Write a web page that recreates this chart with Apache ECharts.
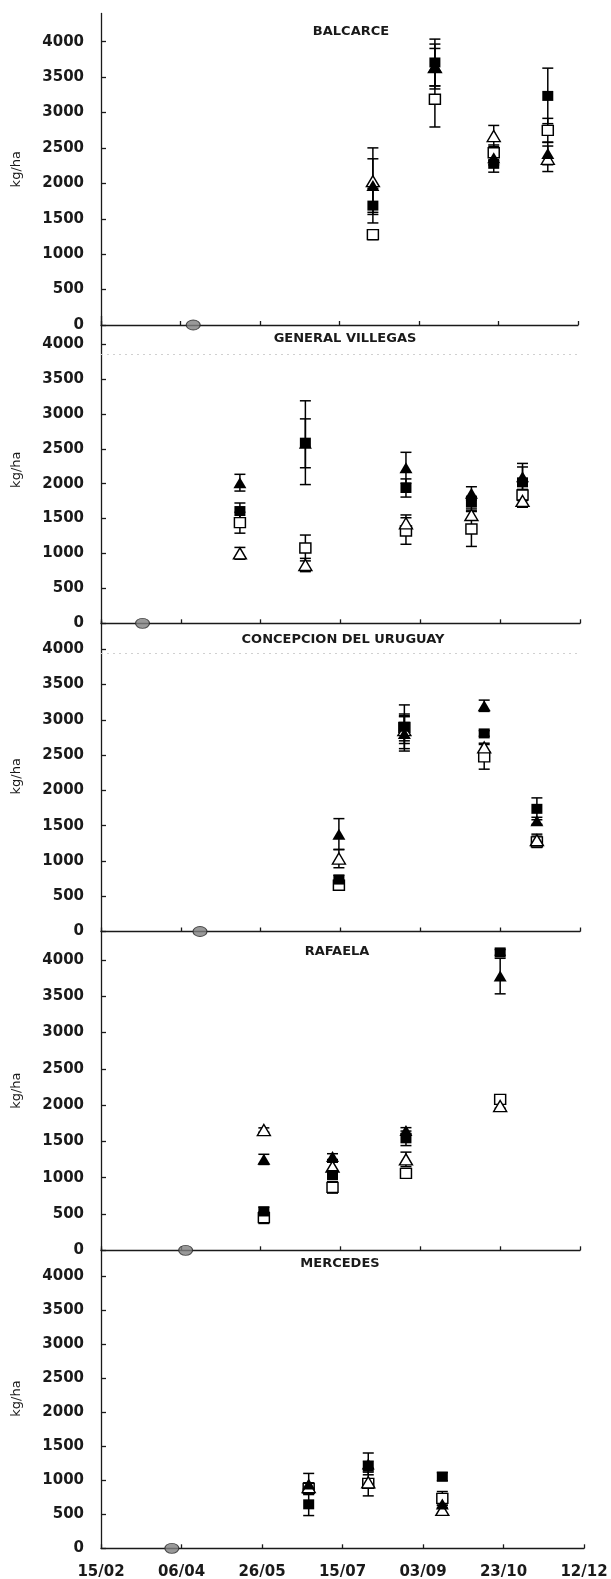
<!DOCTYPE html>
<html>
<head>
<meta charset="utf-8">
<script src="https://cdn.jsdelivr.net/npm/echarts@6/dist/echarts.min.js"></script>
<style>
  html, body { margin: 0; padding: 0; background: #fff; }
  #chart { width: 611px; height: 1579px; }
</style>
</head>
<body>
<div id="chart"></div>
<script>
// ejes
const tickLabels = ['15/02', '06/04', '26/05', '15/07', '03/09', '23/10', '12/12']
const yTicks = [0, 500, 1000, 1500, 2000, 2500, 3000, 3500, 4000]
const sites = ['BALCARCE', 'GENERAL VILLEGAS', 'CONCEPCION DEL URUGUAY', 'RAFAELA', 'MERCEDES']
// fecha de siembra (elipse gris)
const sowingDates = ['14/04', '13/03', '18/04', '09/04', '31/03']
// lineas punteadas grises que asoman arriba de algunos paneles
const ghostLines = [null, 3850, 3945, null, null]

// [valor, error] por tratamiento
const balcarceDates = ['05/08', '13/09', '20/10', '23/11']
const balcarceSqFilled = [[1686, 245], [3707, 330], [2276, 118], [3235, 392]]
const balcarceSqOpen = [[1275, 70], [3188, 392], [2432, 110], [2748, 170]]
const balcarceTriFilled = [[1969, 378], [3650, 317], [2361, 100], [2423, 160]]
const balcarceTriOpen = [[2031, 470], [3640, 265], [2668, 150], [2347, 180]]

const villegasDates = ['13/05', '23/06', '25/08', '05/10', '06/11']
const villegasSqFilled = [[1608, 115], [2587, 600], [1938, 130], [1728, 90], [2019, 220]]
const villegasSqOpen = [[1441, 150], [1079, 185], [1322, 190], [1351, 250], [1838, 80]]
const villegasTriFilled = [[2014, 120], [2578, 350], [2229, 220], [1861, 95], [2100, 190]]
const villegasTriOpen = [[1002, 85], [835, 95], [1432, 120], [1551, 60], [1752, 90]]

const uruguayDates = ['14/07', '24/08', '13/10', '15/11']
const uruguaySqFilled = [[736, 60], [2902, 310], [2808, 40], [1739, 155]]
const uruguaySqOpen = [[656, 70], [2893, 190], [2476, 175], [1271, 80]]
const uruguayTriFilled = [[1380, 220], [2808, 250], [3200, 80], [1569, 50]]
const uruguayTriOpen = [[1034, 130], [2855, 190], [2609, 60], [1295, 85]]

const rafaelaDates = ['28/05', '10/07', '25/08', '23/10']
const rafaelaSqFilled = [[535, 60], [1038, 50], [1543, 100], [4105, 40]]
const rafaelaSqOpen = [[450, 80], [868, 80], [1060, 40], [2080, 50]]
const rafaelaTriFilled = [[1253, 70], [1291, 40], [1650, 40], [3779, 245]]
const rafaelaTriOpen = [[1657, 30], [1153, 60], [1253, 100], [1988, 30]]

const mercedesDates = ['24/06', '31/07', '15/09']
const mercedesSqFilled = [[646, 165], [1199, 80], [1053, 60]]
const mercedesSqOpen = [[881, 80], [955, 60], [734, 100]]
const mercedesTriFilled = [[945, 155], [1240, 160], [651, 50]]
const mercedesTriOpen = [[900, 60], [970, 200], [563, 70]]

const panelDates = [balcarceDates, villegasDates, uruguayDates, rafaelaDates, mercedesDates]
const panelSets = [
	[balcarceSqOpen, balcarceTriOpen, balcarceTriFilled, balcarceSqFilled],
	[villegasSqOpen, villegasTriOpen, villegasTriFilled, villegasSqFilled],
	[uruguaySqOpen, uruguayTriOpen, uruguayTriFilled, uruguaySqFilled],
	[rafaelaSqOpen, rafaelaTriOpen, rafaelaTriFilled, rafaelaSqFilled],
	[mercedesSqOpen, mercedesTriOpen, mercedesTriFilled, mercedesSqFilled]
]

// estilos de marcador, mismo orden que panelSets
const markerStyles = [
	{ symbol: 'rect', size: [11, 10], fill: '#fff' },
	{ symbol: 'triangle', size: [13, 11], fill: '#fff' },
	{ symbol: 'triangle', size: [13, 11], fill: '#000' },
	{ symbol: 'rect', size: [11, 10], fill: '#000' }
]

// layout (px)
const gridBoxes = [
	{ top: 13.4, height: 311.6, right: 33 },
	{ top: 316.1, height: 307.2, right: 31 },
	{ top: 621.1, height: 310.4, right: 31 },
	{ top: 931, height: 319.3, right: 31 },
	{ top: 1248.8, height: 299.5, right: 27 }
]
const titlePos = [[351, 32], [345, 339], [343, 640], [337, 952], [340, 1264]]

const ink = '#1a1a1a'
const font = 'DejaVu Sans'

// dias desde 15/02
function toDay(s) {
	let [d, m] = s.split('/').map(Number)
	return (Date.UTC(2013, m - 1, d) - Date.UTC(2013, 1, 15)) / 86400000
}

function renderErr(params, api) {
	let x = api.value(0)
	let top = api.coord([x, api.value(2)])
	let bot = api.coord([x, api.value(1)])
	let w = 5.5
	let style = { stroke: '#000', lineWidth: 1.5 }
	return {
		type: 'group',
		children: [
			{ type: 'line', shape: { x1: top[0], y1: top[1], x2: bot[0], y2: bot[1] }, style },
			{ type: 'line', shape: { x1: top[0] - w, y1: top[1], x2: top[0] + w, y2: top[1] }, style },
			{ type: 'line', shape: { x1: bot[0] - w, y1: bot[1], x2: bot[0] + w, y2: bot[1] }, style }
		]
	}
}

let grid = [], xAxis = [], yAxis = [], series = [], graphic = []

sites.forEach((site, i) => {
	let box = gridBoxes[i]
	grid.push({ left: 101, right: box.right, top: box.top, height: box.height, outerBoundsMode: 'none' })

	xAxis.push({
		gridIndex: i, type: 'value', min: 0, max: 300, interval: 50,
		axisLine: { lineStyle: { color: ink, width: 1.3 } },
		axisTick: { inside: true, length: 4, lineStyle: { color: ink, width: 1.3 } },
		splitLine: { show: false },
		axisLabel: {
			show: i === sites.length - 1,
			formatter: v => tickLabels[Math.round(v / 50)],
			margin: 16, fontSize: 15, fontWeight: 'bold', color: ink, fontFamily: font
		}
	})

	yAxis.push({
		gridIndex: i, type: 'value', min: 0, max: 4400, interval: 500,
		name: 'kg/ha', nameLocation: 'middle', nameGap: 78,
		nameTextStyle: { fontSize: 13, color: ink, fontFamily: font },
		axisLine: { show: true, lineStyle: { color: ink, width: 1.3 } },
		axisTick: { show: true, inside: true, length: 5, customValues: yTicks, lineStyle: { color: ink, width: 1.3 } },
		axisLabel: {
			customValues: yTicks, formatter: v => String(v),
			margin: 17, fontSize: 15, fontWeight: 'bold', color: ink, fontFamily: font
		},
		splitLine: { show: false }
	})

	let days = panelDates[i].map(toDay)

	// barras de error
	let errData = []
	panelSets[i].forEach(set => {
		set.forEach((p, k) => errData.push([days[k], p[0] - p[1], p[0] + p[1]]))
	})
	series.push({
		type: 'custom', xAxisIndex: i, yAxisIndex: i, z: 1, clip: false,
		renderItem: renderErr, encode: { x: 0, y: [1, 2] }, data: errData, silent: true
	})

	// marcadores
	panelSets[i].forEach((set, s) => {
		let st = markerStyles[s]
		series.push({
			type: 'scatter', xAxisIndex: i, yAxisIndex: i, z: 2 + s, clip: false,
			symbol: st.symbol, symbolSize: st.size,
			itemStyle: { color: st.fill, borderColor: '#000', borderWidth: st.fill === '#fff' ? 1.4 : 0, opacity: 1 },
			data: set.map((p, k) => [days[k], p[0]]),
			silent: true
		})
	})

	// siembra
	let sow = {
		type: 'scatter', xAxisIndex: i, yAxisIndex: i, z: 8, clip: false,
		symbol: 'circle', symbolSize: [14, 10],
		itemStyle: { color: '#7f7f7f', borderColor: '#262626', borderWidth: 1 },
		data: [[toDay(sowingDates[i]), 0]], silent: true
	}
	if (ghostLines[i] != null) {
		sow.markLine = {
			silent: true, symbol: 'none', label: { show: false },
			lineStyle: { color: '#d0d0d0', type: [2, 4], width: 1 },
			data: [{ yAxis: ghostLines[i] }]
		}
	}
	series.push(sow)

	graphic.push({
		type: 'text', x: titlePos[i][0], y: titlePos[i][1], z: 10,
		style: {
			text: site, fill: ink, font: 'bold 13px "DejaVu Sans"',
			textAlign: 'center', textVerticalAlign: 'middle'
		}
	})
})

let myChart = echarts.init(document.getElementById('chart'))
myChart.setOption({
	animation: false,
	backgroundColor: '#fff',
	textStyle: { fontFamily: font },
	grid, xAxis, yAxis, series, graphic
})
</script>
</body>
</html>
